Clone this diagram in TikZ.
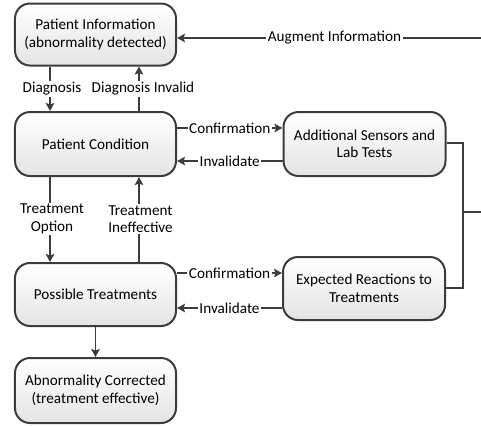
\documentclass[tikz,border=0pt]{standalone}
\usepackage{fontspec}
\setmainfont{Carlito}
\usetikzlibrary{arrows.meta}
\definecolor{edge}{HTML}{3C3C3C}
\definecolor{shadelow}{HTML}{E4E4E4}
\begin{document}
\begin{tikzpicture}[x=1bp,y=-1bp,
  font=\fontsize{15.2bp}{17.5bp}\selectfont,
  stage/.style={draw=edge, line width=2bp, rounded corners=15bp,
    top color=white, bottom color=shadelow, align=center,
    inner sep=0pt},
  flow/.style={draw=edge, line width=1.8bp,
    -{Stealth[length=8bp,width=8.5bp,inset=1.5bp]}},
  link/.style={draw=edge, line width=1.8bp},
  tag/.style={fill=white, inner sep=1.5bp, align=center, text=black}]
\useasboundingbox (0,0) rectangle (481,425);

% stages of the clinical loop
\node[stage, minimum width=161bp, minimum height=62bp] (info) at (95.5,34.5)
  {Patient Information\\(abnormality detected)};
\node[stage, minimum width=161bp, minimum height=64bp] (cond) at (95.5,144)
  {Patient Condition};
\node[stage, minimum width=162bp, minimum height=64bp] (lab) at (364.5,144)
  {Additional Sensors and\\Lab Tests};
\node[stage, minimum width=162bp, minimum height=63bp] (react) at (364,288.5)
  {Expected Reactions to\\Treatments};
\node[stage, minimum width=161bp, minimum height=63bp] (treat) at (95.5,294.5)
  {Possible Treatments};
\node[stage, minimum width=161bp, minimum height=65bp] (done) at (95.5,390.5)
  {Abnormality Corrected\\(treatment effective)};

% vertical transitions
\draw[flow] (info.south -| 50,0) -- (cond.north -| 50,0);
\node[tag] (tdiag) at (52,89) {Diagnosis};
\draw[flow] (cond.north -| 139,0) -- (info.south -| 139,0);
\node[tag] (tinv) at (143,89) {Diagnosis Invalid};

\draw[flow] (cond.south -| 50,0) -- (treat.north -| 50,0);
\node[tag] (topt) at (52,219) {Treatment\\Option};
\draw[flow] (treat.north -| 139,0) -- (cond.south -| 139,0);
\node[tag] (tineff) at (140.5,219) {Treatment\\Ineffective};

\draw[flow] (treat.south) -- (done.north);

% confirmation / invalidation with the side checks
\draw[flow] (cond.east |- 0,128) -- (lab.west |- 0,128)
  node[tag, midway] (tc1) {Confirmation};
\draw[flow] (lab.west |- 0,161) -- (cond.east |- 0,161)
  node[tag, midway] (ti1) {Invalidate};
\draw[flow] (treat.east |- 0,273) -- (react.west |- 0,273)
  node[tag, midway] (tc2) {Confirmation};
\draw[flow] (react.west |- 0,308) -- (treat.east |- 0,308)
  node[tag, midway] (ti2) {Invalidate};

% feedback bus back to the patient information
\coordinate (busTop) at (463,143);
\coordinate (busBot) at (463,288);
\coordinate (busMid) at (463,212);
\coordinate (busOut) at (481,212);
\coordinate (backIn) at (481,38);
\draw[link] (lab.east |- busTop) -- (busTop) -- (busBot) -- (react.east |- busBot);
\draw[link] (busMid) -- (busOut);
\draw[flow] (backIn) -- (info.east |- backIn);
\node[tag] (taug) at (334.5,38) {Augment Information};
\end{tikzpicture}
\end{document}
